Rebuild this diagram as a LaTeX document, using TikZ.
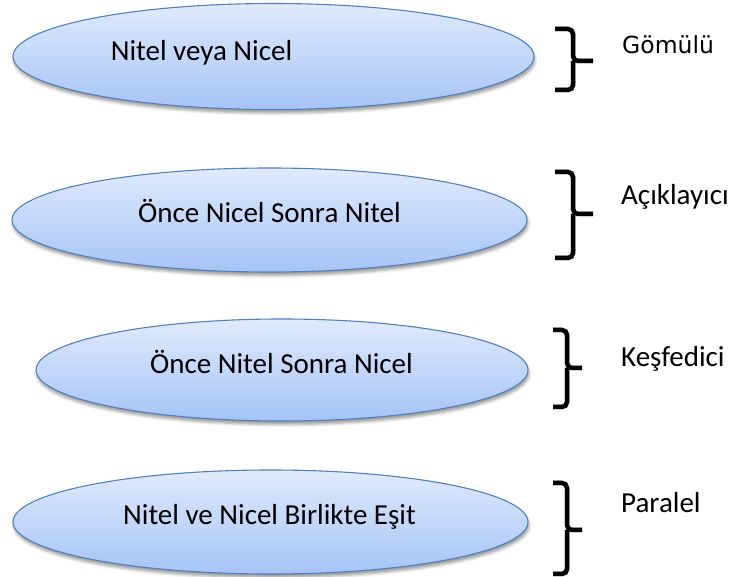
\documentclass[tikz,border=0pt]{standalone}
\usepackage{fontspec}
\setmainfont{Carlito}
\newfontfamily\vera{DejaVu Sans}
\usetikzlibrary{shapes.geometric,shadows.blur}

\definecolor{ovalTop}{RGB}{224,234,252}
\definecolor{ovalBottom}{RGB}{166,196,246}
\definecolor{ovalEdge}{RGB}{79,129,189}

\tikzset{
  oval/.style={ellipse, draw=ovalEdge, line width=1.1pt,
    top color=ovalTop, bottom color=ovalBottom, inner sep=0pt,
    blur shadow={shadow xshift=1pt, shadow yshift=-3.5pt,
      shadow blur radius=3pt, shadow opacity=40}},
  ovaltext/.style={anchor=base, inner sep=0pt, font=\fontsize{29}{34}\selectfont},
  kind/.style={anchor=base west, inner sep=0pt, font=\fontsize{29}{34}\selectfont},
  bracket/.style={line width=4.5pt, rounded corners=5pt, black},
  bracketshade/.style={line width=5pt, rounded corners=5pt, black, opacity=0.18}
}

\begin{document}
\begin{tikzpicture}[x=1pt,y=-1pt]
  \useasboundingbox (0,0) rectangle (732,577);

  % the four design ovals
  \node[oval, minimum width=521pt, minimum height=106pt] (o1) at (273.5,56.5) {};
  \node[oval, minimum width=515pt, minimum height=104pt] (o2) at (269.5,220) {};
  \node[oval, minimum width=492pt, minimum height=102pt] (o3) at (282,370) {};
  \node[oval, minimum width=515pt, minimum height=104pt] (o4) at (270.5,522) {};

  \node[ovaltext] (t1) at (201.5,61) {Nitel veya Nicel};
  \node[ovaltext] (t2) at (269.5,223) {Önce Nicel Sonra Nitel};
  \node[ovaltext] (t3) at (281.5,374) {Önce Nitel Sonra Nicel};
  \node[ovaltext] (t4) at (269.5,525) {Nitel ve Nicel Birlikte Eşit};

  % brackets: top end, tip, bottom end
  \coordinate (b1t) at (555,29);  \coordinate (b1m) at (573,61);  \coordinate (b1b) at (555,90);
  \coordinate (b2t) at (555,172); \coordinate (b2m) at (573,214); \coordinate (b2b) at (555,258);
  \coordinate (b3t) at (553,330); \coordinate (b3m) at (567,368); \coordinate (b3b) at (553,407);
  \coordinate (b4t) at (553,483); \coordinate (b4m) at (567,530); \coordinate (b4b) at (553,574);

  \foreach \b/\tip in {b1/20, b2/20, b3/15, b4/15}{
    \begin{scope}[shift={(1.5pt,-3pt)}]
      \draw[bracketshade] (\b t) -| (\b m) -- ++(\tip,0);
      \draw[bracketshade] (\b m) |- (\b b);
    \end{scope}
    \draw[bracket] (\b t) -| (\b m) -- ++(\tip,0);
    \draw[bracket] (\b m) |- (\b b);
  }

  % design names
  \node[kind, font=\vera\fontsize{23.5}{28}\selectfont] (k1) at (622,54) {Gömülü};
  \node[kind] (k2) at (621,205) {Açıklayıcı};
  \node[kind] (k3) at (621,367) {Keşfedici};
  \node[kind] (k4) at (621,513) {Paralel};
\end{tikzpicture}
\end{document}
